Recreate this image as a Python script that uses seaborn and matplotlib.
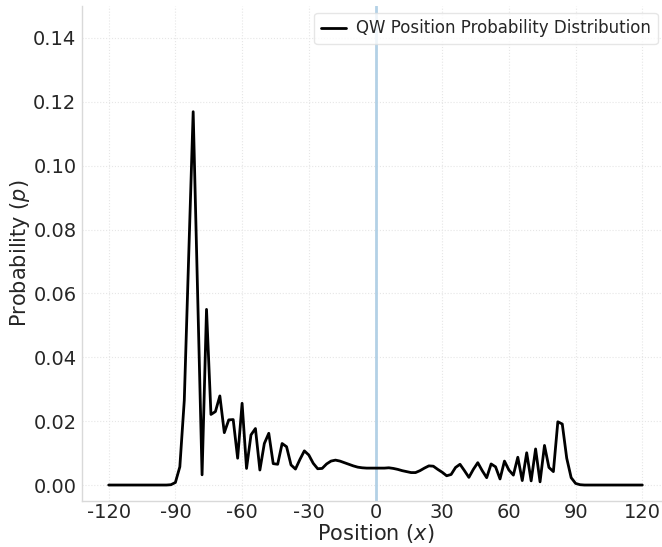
import numpy as np
import pandas as pd
import matplotlib
matplotlib.use("Agg")
import matplotlib.pyplot as plt
import seaborn as sns

# Even positions -120..120 and their probabilities
positions = list(range(-120, 121, 2))
left_tail = [0.0] * 14  # -120 .. -94
left_part = [0.0001, 0.0008, 0.0057, 0.0265, 0.072, 0.1169, 0.060, 0.0032,
             0.0550, 0.0221, 0.0230, 0.0279, 0.0164, 0.0204, 0.0205, 0.0084,
             0.0256, 0.0052, 0.0157, 0.0177, 0.0047, 0.0130, 0.0162, 0.0067,
             0.0065, 0.0130, 0.0120, 0.0063, 0.0050, 0.0080, 0.0107, 0.0094,
             0.0068, 0.0051, 0.0052, 0.0066, 0.0075, 0.0078, 0.0075, 0.0070,
             0.0065, 0.0060, 0.0056, 0.0054]  # -92 .. -6
middle = [0.0053, 0.0053, 0.0053, 0.0053, 0.0053, 0.0054]  # -4 .. 6
right_part = [0.0052, 0.0049, 0.0045, 0.0042, 0.0039, 0.0039, 0.0045, 0.0053,
              0.0060, 0.0059, 0.0049, 0.0040, 0.0029, 0.0033, 0.0055, 0.0065,
              0.0045, 0.0024, 0.0049, 0.0070, 0.0045, 0.0023, 0.0066, 0.0057,
              0.0019, 0.0075, 0.0047, 0.0031, 0.0087, 0.0014, 0.0101, 0.0013,
              0.0113, 0.0010, 0.0124, 0.0055, 0.0042, 0.0198, 0.0191, 0.0084,
              0.0023, 0.0005, 0.0001]  # 8 .. 92
right_tail = [0.0] * 14  # 94 .. 120
probabilities = left_tail + left_part + middle + right_part + right_tail

x_ticks = [-120, -90, -60, -30, 0, 30, 60, 90, 120]
y_ticks = [0.00, 0.02, 0.04, 0.06, 0.08, 0.10, 0.12, 0.14]

df = pd.DataFrame({"Position": positions, "Probability": probabilities})

sns.set_theme(style="whitegrid")
plt.rcParams['font.family'] = ['DejaVu Sans']

fig = plt.figure(figsize=(6.62, 5.47), dpi=100)
ax = fig.add_axes([82 / 662, 1 - 501 / 547, (669 - 82) / 662, (501 - 6) / 547])

ax.axvline(0, color="#b3d1e6", linewidth=2, zorder=1)
sns.lineplot(data=df, x="Position", y="Probability", ax=ax, color="black",
             linewidth=2, label="QW Position Probability Distribution", zorder=3)

ax.set_xlim(-132, 132)
ax.set_ylim(-0.005, 0.15)
ax.set_xticks(x_ticks)
ax.set_xticklabels([str(t) for t in x_ticks])
ax.set_yticks(y_ticks)
ax.set_yticklabels([f"{t:.2f}" for t in y_ticks])
ax.tick_params(axis="x", labelsize=14, length=0, pad=1.5)
ax.tick_params(axis="y", labelsize=14, length=0, pad=4)
ax.set_xlabel("Position $(x)$", fontsize=15, labelpad=0)
ax.set_ylabel("Probability $(p)$", fontsize=15, labelpad=1)

ax.grid(True, color="#e6e6e6", linestyle=":", linewidth=0.8)
for s in ["top", "right"]:
    ax.spines[s].set_visible(False)
for s in ["left", "bottom"]:
    ax.spines[s].set_color("#d9d9d9")
    ax.spines[s].set_linewidth(1)

leg = ax.legend(loc="upper right", fontsize=12, frameon=True,
                handlelength=1.5, handletextpad=0.6, borderpad=0.4,
                bbox_to_anchor=((661 - 82) / (669 - 82), 0.993), borderaxespad=0.2)
leg.get_frame().set_edgecolor("#e0e0e0")

fig.savefig("out.png", dpi=100)
